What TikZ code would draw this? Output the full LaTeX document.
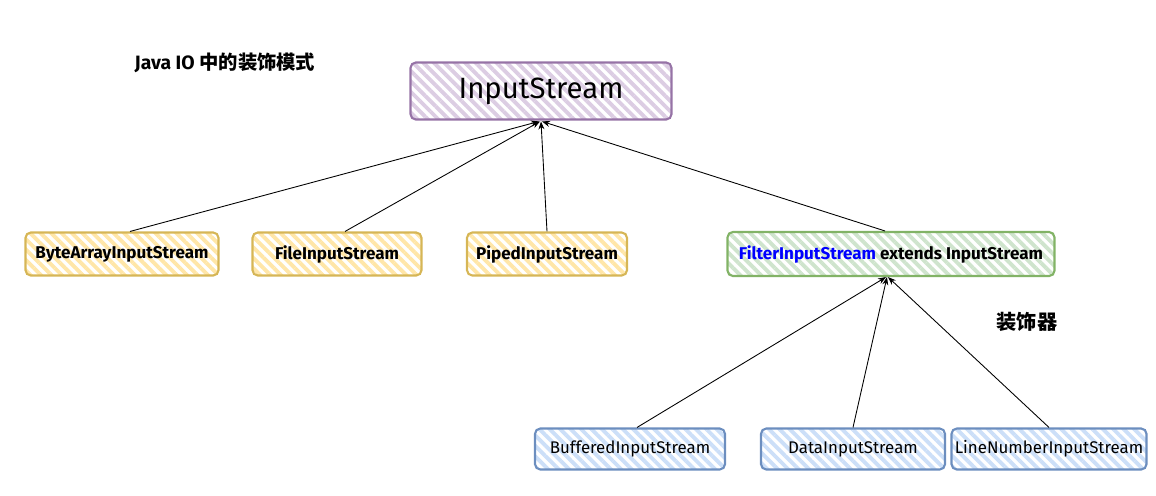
\documentclass[tikz,border=0pt]{standalone}
\usepackage{fontspec}
\setmainfont{Fira Sans}
\newfontfamily\cjk{Noto Sans CJK SC}
\usepackage{xcolor}
\usetikzlibrary{arrows.meta,patterns.meta}
\definecolor{purpleln}{HTML}{9673A6}
\definecolor{purplefl}{HTML}{DCCDE3}
\definecolor{yellowln}{HTML}{D6B656}
\definecolor{yellowfl}{HTML}{FFE6A8}
\definecolor{greenln}{HTML}{82B366}
\definecolor{greenfl}{HTML}{CFE4CD}
\definecolor{blueln}{HTML}{6C8EBF}
\definecolor{bluefl}{HTML}{CCDFF8}

\begin{document}
\begin{tikzpicture}[x=0.02cm,y=-0.02cm,>={Stealth[length=1.6mm,width=1.2mm]},
  box/.style={rounded corners=3pt,line width=1.2pt,inner sep=0pt,align=center,
    pattern={Lines[angle=-45,distance=4.2pt,line width=2.2pt]}},
  rootbox/.style={box,draw=purpleln,pattern color=purplefl,font=\fontsize{16.7}{18}\selectfont,
    minimum width=5.22cm,minimum height=1.14cm},
  implbox/.style={box,draw=yellowln,pattern color=yellowfl,font=\fontsize{9.7}{11}\selectfont\bfseries,
    minimum height=0.86cm},
  filtbox/.style={box,draw=greenln,pattern color=greenfl,font=\fontsize{9.7}{11}\selectfont\bfseries,
    minimum width=6.54cm,minimum height=0.88cm},
  decobox/.style={box,draw=blueln,pattern color=bluefl,font=\fontsize{9.6}{11}\selectfont,
    minimum height=0.82cm},
  inherit/.style={->,black,line width=0.5pt}]
  \useasboundingbox (0,0) rectangle (1156,495);

  \node[font=\fontsize{11}{13}\selectfont\bfseries] (title) at (225,63) {Java IO {\cjk 中的装饰模式}};
  \node[font=\fontsize{11.5}{13}\selectfont\bfseries\cjk] (deco) at (1027,322) {装饰器};

  \node[rootbox] (in) at (541,91) {InputStream};

  \node[implbox,minimum width=3.86cm] (bytein) at (122,254) {ByteArrayInputStream};
  \node[implbox,minimum width=3.38cm] (filein) at (337,254) {FileInputStream};
  \node[implbox,minimum width=3.20cm] (pipein) at (547,254) {PipedInputStream};
  \node[filtbox] (filtin) at (891,254) {\textcolor{blue}{FilterInputStream} extends InputStream};

  \node[decobox,minimum width=3.80cm] (bufin) at (630,449) {BufferedInputStream};
  \node[decobox,minimum width=3.68cm] (datain) at (853,449) {DataInputStream};
  \node[decobox,minimum width=3.90cm] (linein) at (1049,449) {LineNumberInputStream};

  \draw[inherit] ([xshift=0.16cm]bytein.north) -- ([xshift=-0.04cm]in.south);
  \draw[inherit] ([xshift=0.16cm]filein.north) -- ([xshift=-0.02cm]in.south);
  \draw[inherit] (pipein.north) -- (in.south);
  \draw[inherit] ([xshift=-0.12cm]filtin.north) -- ([xshift=0.02cm]in.south);

  \draw[inherit] ([xshift=0.14cm]bufin.north) -- ([xshift=-0.1cm]filtin.south);
  \draw[inherit] (datain.north) -- ([xshift=-0.08cm]filtin.south);
  \draw[inherit] (linein.north) -- ([xshift=-0.06cm]filtin.south);
\end{tikzpicture}
\end{document}
